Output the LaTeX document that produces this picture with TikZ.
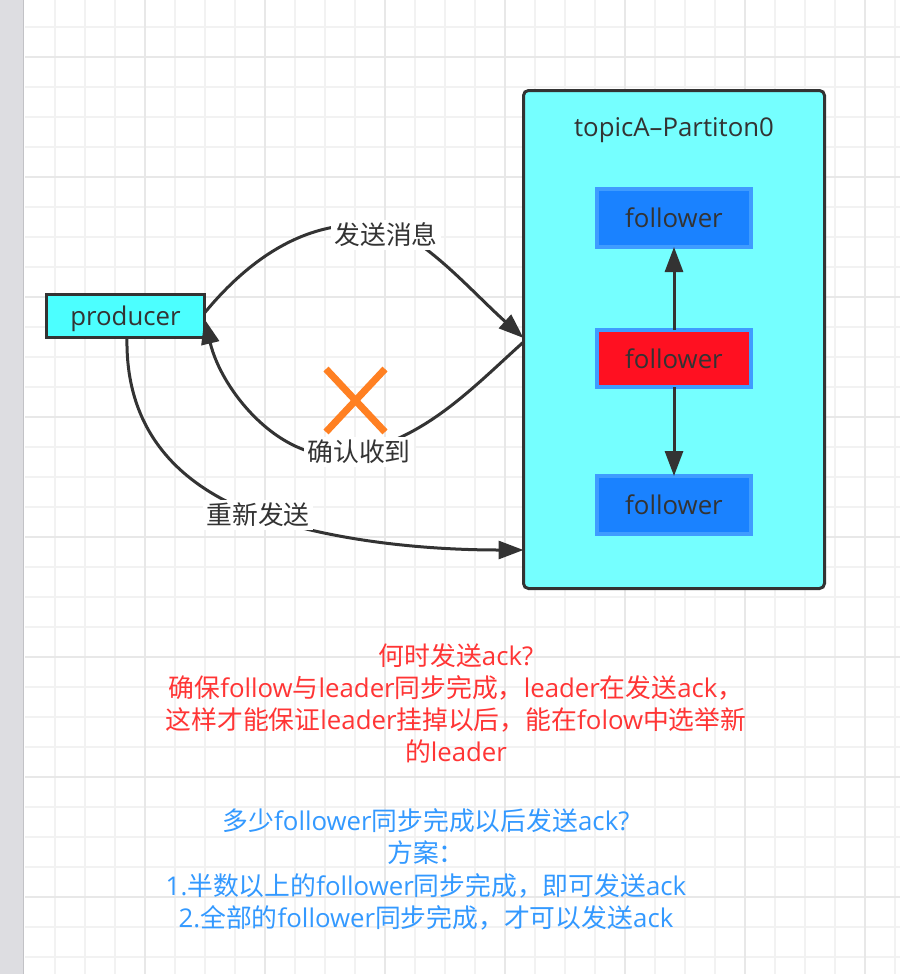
\documentclass[tikz,border=0pt]{standalone}
\usepackage{fontspec}
\setmainfont{Open Sans}
\newfontfamily\cjkfont{Noto Sans CJK SC}
\newcommand\zh[1]{{\cjkfont #1}}
\newcommand\basefs{\fontsize{25.8}{32.2}\selectfont}
\usetikzlibrary{arrows.meta}
\definecolor{ink}{HTML}{333333}
\definecolor{gridminor}{HTML}{F2F2F2}
\definecolor{gridmajor}{HTML}{E8E8E8}
\definecolor{stripgray}{HTML}{DDDDE1}
\definecolor{prodfill}{HTML}{4CFFFF}
\definecolor{partfill}{HTML}{75FFFF}
\definecolor{folfill}{HTML}{1A82FF}
\definecolor{folline}{HTML}{3F9CFF}
\definecolor{leadfill}{HTML}{FF1021}
\definecolor{crossorange}{HTML}{FF8022}
\definecolor{notered}{HTML}{FF3535}
\definecolor{noteblue}{HTML}{3399FF}
\tikzset{
  every node/.style={font=\basefs, text=ink, inner sep=0pt, outer sep=0pt},
  gridminorline/.style={gridminor, line width=1.6pt},
  gridmajorline/.style={gridmajor, line width=2pt},
  producerbox/.style={draw=ink, line width=3pt, fill=prodfill, minimum width=158pt, minimum height=43pt, text depth=0pt},
  partbox/.style={draw=ink, line width=3pt, fill=partfill, rounded corners=5pt, minimum width=301pt, minimum height=498pt},
  folbox/.style={draw=folline, line width=4pt, fill=folfill, minimum width=154pt, minimum height=58pt},
  leadbox/.style={folbox, fill=leadfill, minimum height=57pt},
  conn/.style={draw=ink, line width=3pt, -{Triangle[length=25pt,width=18pt]}},
  edgelabel/.style={fill=white, inner sep=3pt},
  crossline/.style={draw=crossorange, line width=7pt},
  notetext/.style={align=center}
}
\begin{document}
\begin{tikzpicture}[x=1pt,y=-1pt]
\useasboundingbox (0,0) rectangle (900,974);
\fill[white] (0,0) rectangle (900,974);
% grid
\foreach \gx in {55,85,...,895} \draw[gridminorline] (\gx,0) -- (\gx,974);
\foreach \gy in {27,57,...,974} \draw[gridminorline] (25,\gy) -- (900,\gy);
\foreach \gx in {145,265,...,895} \draw[gridmajorline] (\gx,0) -- (\gx,974);
\foreach \gy in {57,177,...,974} \draw[gridmajorline] (25,\gy) -- (900,\gy);
% left strip
\fill[stripgray] (0,0) rectangle (24,974);
\draw[line width=1.5pt, color=stripgray!88!black] (23.5,0) -- (23.5,974);

% nodes
\node[producerbox] (prod) at (125.5,316) {producer};
\node[partbox] (part) at (674,339.5) {};
\node (title) at (674,130) {topicA–Partiton0};
\node[folbox] (ftop) at (674,218) {follower};
\node[leadbox] (fmid) at (674,358.5) {follower};
\node[folbox] (fbot) at (674,505) {follower};

% inner arrows
\draw[conn] (fmid.north) -- (ftop.south);
\draw[conn] (fmid.south) -- (fbot.north);

% connector end points
\coordinate (sendStart) at (prod.east |- 0,313);
\coordinate (sendEnd) at (part.west |- 0,338);
\coordinate (retStart) at (part.west |- 0,342);
\coordinate (retEnd) at (prod.east |- 0,319);
\coordinate (resStart) at (prod.south -| 127,0);
\coordinate (resEnd) at (part.west |- 0,550);

% curves
\draw[conn] (sendStart) .. controls (258,248) and (318,218) .. (380,226)
  .. controls (420,232) and (470,290) .. (sendEnd);
\draw[conn] (retStart) .. controls (470,390) and (420,445) .. (340,455)
  .. controls (280,460) and (222,392) .. (retEnd);
\draw[conn] (resStart) .. controls (125,440) and (190,490) .. (258,515)
  .. controls (330,540) and (420,550) .. (resEnd);

% cross mark
\draw[crossline] (326,369) -- (385,432);
\draw[crossline] (385,369) -- (326,432);

% labels
\node[edgelabel] (lsend) at (386,235) {\zh{发送消息}};
\node[edgelabel] (lack) at (359,452) {\zh{确认收到}};
\node[edgelabel] (lres) at (258,515) {\zh{重新发送}};

% notes
\node[notetext, text=notered] (note1) at (456,703.5) {%
\zh{何时发送}ack?\\
\zh{确保}follow\zh{与}leader\zh{同步完成，}leader\zh{在发送}ack\zh{，}\\
\zh{这样才能保证}leader\zh{挂掉以后，能在}folow\zh{中选举新}\\
\zh{的}leader};
\node[notetext, text=noteblue] (note2) at (426,869.5) {%
\zh{多少}follower\zh{同步完成以后发送}ack?\\
\zh{方案：}\\
1.\zh{半数以上的}follower\zh{同步完成，即可发送}ack\\
2.\zh{全部的}follower\zh{同步完成，才可以发送}ack};
\end{tikzpicture}
\end{document}
